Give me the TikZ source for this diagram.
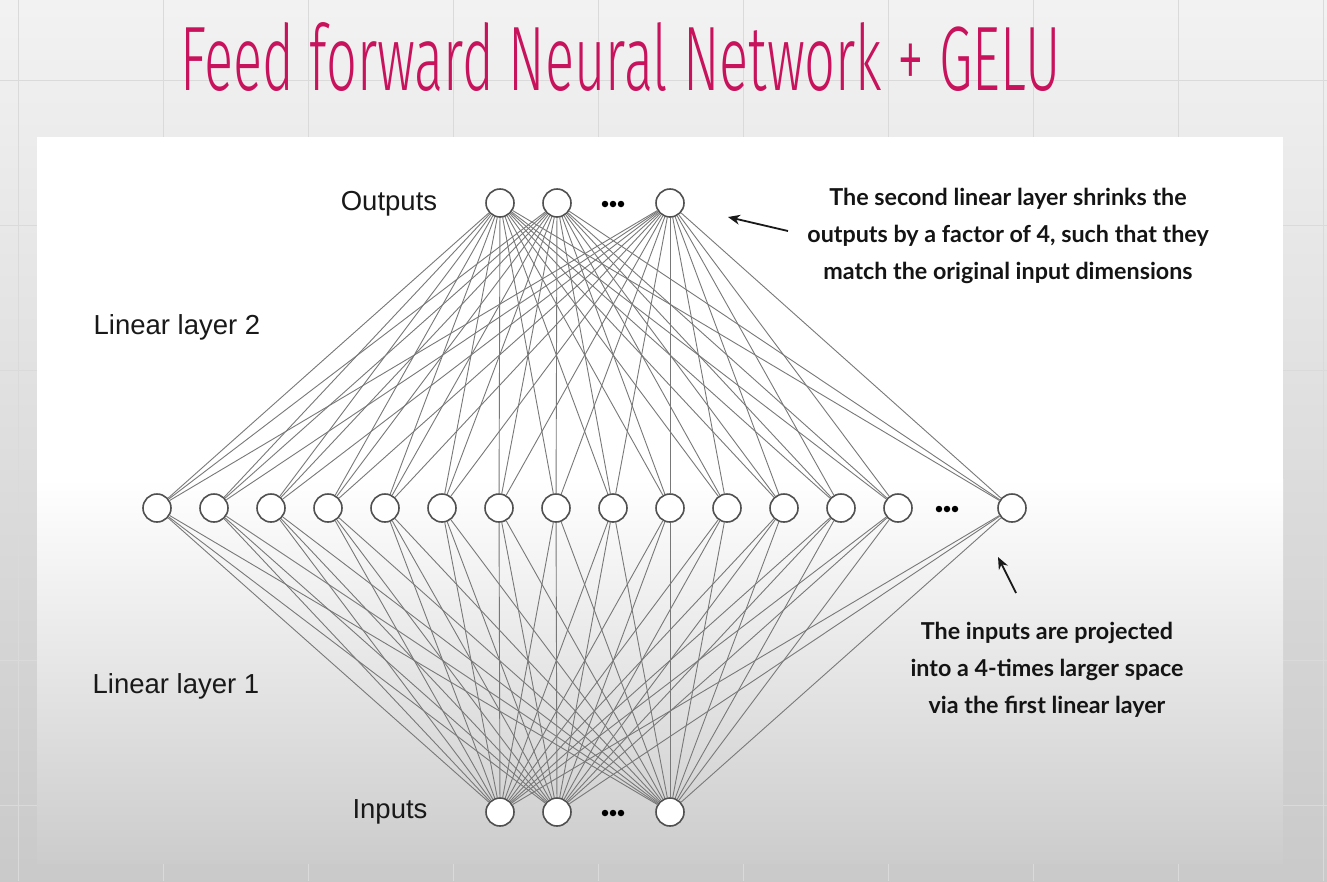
\documentclass[tikz,border=0pt]{standalone}
\usepackage{fontspec}
\setmainfont{Liberation Sans}
\newfontfamily\annfont{Lato}
\newfontfamily\titlefont{Fira Sans}[UprightFont={* Light}]
\usetikzlibrary{arrows.meta}
\definecolor{ink}{RGB}{200,18,92}
\definecolor{edgegray}{RGB}{120,120,120}
\definecolor{nodegray}{RGB}{80,80,80}
\definecolor{gridgray}{RGB}{218,218,218}
\tikzset{
  neuron/.style={circle,draw=nodegray,line width=1.6pt,fill=white,minimum size=28pt,inner sep=0pt},
  conn/.style={draw=edgegray,line width=0.9pt},
  lbl/.style={font=\fontsize{27.5}{32}\selectfont,text=black!90,inner sep=0pt},
  ann/.style={font=\annfont\bfseries\fontsize{23.3}{37}\selectfont,align=center,inner sep=0pt,text=black!92},
  pointer/.style={-{Stealth[length=12pt,width=10pt]},line width=1.8pt,black!90},
  dotmark/.style={circle,fill=black,inner sep=0pt,minimum size=6.5pt}
}
\begin{document}
\begin{tikzpicture}[x=1pt,y=-1pt]
\useasboundingbox (0,0) rectangle (1327,881);
% notebook background
\shade[top color=gray!10,bottom color=gray!42] (0,0) rectangle (1327,881);
\foreach \gx in {18,163,308,453,598,743,888,1033,1178,1323}
  \draw[gridgray,line width=0.8pt] (\gx,0) -- (\gx,881);
\foreach \gy in {80,225,370,515,660,805}
  \draw[gridgray,line width=0.8pt] (0,\gy) -- (1327,\gy);
% panel
\fill[white] (37,137) rectangle (1283,480);
\shade[top color=white,bottom color=gray!40] (37,479) rectangle (1283,863);
% title
\node[text=ink,anchor=base west,inner sep=0pt] (title) at (180,90)
  {\resizebox{880pt}{68pt}{\titlefont Feed forward Neural Network + GELU}};
% hidden layer positions
\foreach \i in {0,...,13}
  \coordinate (hp\i) at ({157+57*\i},508);
\coordinate (hp14) at (1012,508);
% neurons
\foreach \i in {0,...,14}
  \node[neuron] (h\i) at (hp\i) {};
\node[neuron] (o1) at (500,203) {};
\node[neuron] (o2) at (557,203) {};
\node[neuron] (o3) at (670,203) {};
\node[neuron] (i1) at (500,812) {};
\node[neuron] (i2) at (557,812) {};
\node[neuron] (i3) at (670,812) {};
% connections
\foreach \i in {0,...,14}{
  \foreach \j in {1,2,3}{
    \draw[conn] (h\i) -- (o\j);
    \draw[conn] (h\i) -- (i\j);
  }
}
% ellipsis dots
\foreach \dx in {-8,0,8}{
  \node[dotmark] at (613+\dx,204) {};
  \node[dotmark] at (613+\dx,813) {};
  \node[dotmark] at (947+\dx,509) {};
}
% labels
\node[lbl] (outl) at (389,204) {Outputs};
\node[lbl] (inl) at (390,812) {Inputs};
\node[lbl] (l2) at (177,327) {Linear layer 2};
\node[lbl] (l1) at (176,686) {Linear layer 1};
% annotations
\node[ann] (a1) at (1008,236) {The second linear layer shrinks the\\outputs by a factor of 4, such that they\\match the original input dimensions};
\node[ann] (a2) at (1047,670) {The inputs are projected\\into a 4-times larger space\\via the first linear layer};
\coordinate (a1t) at (788,231);
\coordinate (a1h) at (728,217);
\draw[pointer] (a1t) -- (a1h);
\coordinate (a2t) at (1016,593);
\coordinate (a2h) at (998,557);
\draw[pointer] (a2t) -- (a2h);
\end{tikzpicture}
\end{document}
